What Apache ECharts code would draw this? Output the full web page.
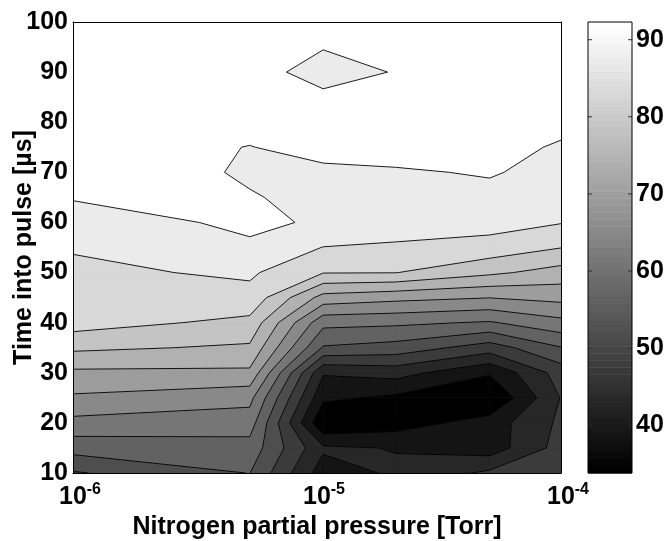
<!DOCTYPE html>
<html>
<head>
<meta charset="utf-8">
<script src="https://cdn.jsdelivr.net/npm/echarts@6/dist/echarts.min.js"></script>
<style>
html, body { margin: 0; padding: 0; background: #fff; }
#chart { width: 666px; height: 541px; }
</style>
</head>
<body>
<div id="chart"></div>
<script>
// measured grid: pressure columns [Torr], time rows [us]
var pressure = [1e-6, 5.3e-6, 1.06e-5, 2.1e-5, 5.1e-5, 1e-4];
var time = [10, 15, 20, 25, 30, 35, 40, 45, 50, 55, 60, 65, 70, 75, 80, 85, 90, 95, 100];
// one row per time value, one entry per pressure column
var intensity = [
    [49.6, 54.1, 39.9, 42.7, 46.8, 48.4],
    [55.6, 56.4, 42.7, 41.8, 39.8, 47.6],
    [60.8, 60.0, 34.3, 36.0, 39.9, 46.8],
    [65.4, 63.2, 38.8, 37.2, 33.8, 46.2],
    [69.2, 69.2, 42.4, 43.6, 38.5, 47.8],
    [74.8, 73.4, 53.6, 52.4, 48.0, 53.8],
    [79.8, 76.9, 59.2, 58.8, 57.6, 60.8],
    [80.4, 80.8, 68.5, 67.2, 66.1, 67.2],
    [81.2, 82.6, 78.2, 78.1, 74.8, 72.4],
    [82.3, 85.4, 81.9, 81.6, 80.4, 78.1],
    [84.0, 86.8, 85.5, 83.4, 83.6, 82.2],
    [86.3, 86.1, 85.6, 84.8, 85.0, 83.6],
    [87.2, 85.8, 85.3, 85.6, 86.3, 84.8],
    [88.0, 85.9, 87.2, 87.6, 87.2, 85.6],
    [88.4, 87.2, 87.2, 88.4, 88.0, 87.0],
    [88.6, 88.0, 86.4, 88.4, 88.4, 87.6],
    [88.8, 86.8, 85.2, 86.1, 88.4, 88.0],
    [89.0, 88.8, 86.1, 88.0, 88.8, 88.4],
    [92.3, 89.2, 87.2, 88.8, 89.2, 88.8]
];
var levels = [38, 42, 46, 50, 54, 58, 62, 66, 70, 74, 78, 82, 86];
var xTicks = [1e-6, 1e-5, 1e-4];
var yTicks = [10, 20, 30, 40, 50, 60, 70, 80, 90, 100];
var barTicks = [40, 50, 60, 70, 80, 90];
var barRange = [33.8, 92.3];

var FONT = '"Liberation Sans", Arial, Helvetica, sans-serif';

// grey for each filled band: black below the first level, white above the last
function bandColor(b) {
    var g = Math.round(b * 255 / levels.length);
    return 'rgb(' + g + ',' + g + ',' + g + ')';
}

function lerp(a, b, lv) {
    var t = (lv - a[2]) / (b[2] - a[2]);
    return [a[0] + (b[0] - a[0]) * t, a[1] + (b[1] - a[1]) * t, lv];
}

// part of a cell at or above a level, walking round its edges (marching squares)
function abovePoly(quad, lv) {
    var out = [];
    for (var k = 0; k < 4; k++) {
        var a = quad[k], b = quad[(k + 1) % 4];
        var ina = a[2] >= lv, inb = b[2] >= lv;
        if (ina) out.push(a);
        if (ina !== inb) out.push(lerp(a, b, lv));
    }
    return out;
}

// contour segments of one level inside one cell
function cellSegments(quad, lv) {
    var cross = [];
    for (var k = 0; k < 4; k++) {
        var a = quad[k], b = quad[(k + 1) % 4];
        var ina = a[2] >= lv, inb = b[2] >= lv;
        if (ina !== inb) cross.push({ p: lerp(a, b, lv), exit: ina });
    }
    var segs = [];
    for (var n = 0; n < cross.length; n++) {
        if (cross[n].exit) {
            var nx = cross[(n + 1) % cross.length];
            segs.push([cross[n].p, nx.p]);
        }
    }
    return segs;
}

function renderContour(params, api) {
    var quads = [];
    for (var j = 0; j < time.length - 1; j++) {
        for (var i = 0; i < pressure.length - 1; i++) {
            var q = [[i, j], [i + 1, j], [i + 1, j + 1], [i, j + 1]].map(function (c) {
                var p = api.coord([pressure[c[0]], time[c[1]]]);
                return [p[0], p[1], intensity[c[1]][c[0]]];
            });
            quads.push(q);
        }
    }
    var children = [];
    // fill level by level so every band paints over the one below it
    for (var b = 0; b <= levels.length; b++) {
        var col = bandColor(b);
        quads.forEach(function (q) {
            var poly = b === 0 ? q : abovePoly(q, levels[b - 1]);
            if (poly.length < 3) return;
            children.push({
                type: 'polygon',
                shape: { points: poly.map(function (p) { return [p[0], p[1]]; }) },
                style: { fill: col, stroke: col, lineWidth: 0.8 }
            });
        });
    }
    levels.forEach(function (lv) {
        quads.forEach(function (q) {
            cellSegments(q, lv).forEach(function (s) {
                children.push({
                    type: 'line',
                    shape: { x1: s[0][0], y1: s[0][1], x2: s[1][0], y2: s[1][1] },
                    style: { stroke: '#000', lineWidth: 0.9 }
                });
            });
        });
    });
    return { type: 'group', children: children };
}

// colour bar: 64 grey steps like the gray(64) colormap, with inside ticks
function renderBar(params, api) {
    var steps = 64, children = [];
    var lo = barRange[0], hi = barRange[1];
    for (var k = 0; k < steps; k++) {
        var v0 = lo + (hi - lo) * k / steps, v1 = lo + (hi - lo) * (k + 1) / steps;
        var p0 = api.coord([0, v0]), p1 = api.coord([1, v1]);
        var g = Math.round(255 * k / (steps - 1));
        var col = 'rgb(' + g + ',' + g + ',' + g + ')';
        children.push({
            type: 'rect',
            shape: { x: p0[0], y: p1[1], width: p1[0] - p0[0], height: p0[1] - p1[1] + 0.5 },
            style: { fill: col }
        });
    }
    barTicks.forEach(function (v) {
        var l = api.coord([0, v]), r = api.coord([1, v]);
        children.push({ type: 'line', shape: { x1: l[0], y1: l[1], x2: l[0] + 4, y2: l[1] },
            style: { stroke: '#333', lineWidth: 1 } });
        children.push({ type: 'line', shape: { x1: r[0] - 4, y1: r[1], x2: r[0], y2: r[1] },
            style: { stroke: '#333', lineWidth: 1 } });
    });
    var a = api.coord([0, hi]), z = api.coord([1, lo]);
    children.push({
        type: 'rect',
        shape: { x: a[0], y: a[1], width: z[0] - a[0], height: z[1] - a[1] },
        style: { fill: null, stroke: '#000', lineWidth: 1 }
    });
    return { type: 'group', children: children };
}

var chart = echarts.init(document.getElementById('chart'), null, { renderer: 'canvas' });
var option = {
    animation: false,
    backgroundColor: '#fff',
    grid: [
        { left: 73, top: 22, width: 488, height: 451, outerBoundsMode: 'none', containLabel: false },
        { left: 588, top: 22, width: 44, height: 451, outerBoundsMode: 'none', containLabel: false }
    ],
    xAxis: [{
        type: 'log', logBase: 10, gridIndex: 0, min: 1e-6, max: 1e-4, z: 10,
        name: 'Nitrogen partial pressure [Torr]', nameLocation: 'middle', nameGap: 38,
        nameTextStyle: { fontFamily: FONT, fontWeight: 'bold', fontSize: 25, color: '#000' },
        axisLine: { show: true, lineStyle: { color: '#000', width: 1 } },
        axisTick: { show: false }, splitLine: { show: false }, minorTick: { show: false },
        axisLabel: {
            margin: 9,
            customValues: xTicks,
            formatter: function (v) {
                var e = Math.round(Math.log(v) / Math.LN10);
                return '{b|10}{s|' + e + '}';
            },
            rich: {
                b: { fontFamily: FONT, fontWeight: 'bold', fontSize: 25, color: '#000', padding: [0, 0, 0, 14] },
                s: { fontFamily: FONT, fontWeight: 'bold', fontSize: 16, color: '#000', padding: [0, 0, 15, 0] }
            }
        }
    }, {
        type: 'log', logBase: 10, gridIndex: 0, min: 1e-6, max: 1e-4, position: 'top', z: 10,
        axisLine: { show: true, lineStyle: { color: '#000', width: 1 } },
        axisTick: { show: false }, axisLabel: { show: false }, splitLine: { show: false }
    }, {
        type: 'value', gridIndex: 1, min: 0, max: 1, show: false
    }],
    yAxis: [{
        type: 'value', gridIndex: 0, min: 10, max: 100, interval: 10, z: 10,
        name: 'Time into pulse [µs]', nameLocation: 'middle', nameGap: 36, nameRotate: 90,
        nameMoveOverlap: false,
        nameTextStyle: { fontFamily: FONT, fontWeight: 'bold', fontSize: 25, color: '#000' },
        axisLine: { show: true, lineStyle: { color: '#000', width: 1 } },
        axisTick: { show: false }, splitLine: { show: false },
        axisLabel: { margin: 5, fontFamily: FONT, fontWeight: 'bold', fontSize: 25, color: '#000',
            customValues: yTicks }
    }, {
        type: 'value', gridIndex: 0, min: 10, max: 100, interval: 10, position: 'right', z: 10,
        axisLine: { show: true, lineStyle: { color: '#000', width: 1 } },
        axisTick: { show: false }, axisLabel: { show: false }, splitLine: { show: false }
    }, {
        type: 'value', gridIndex: 1, min: barRange[0], max: barRange[1], position: 'right', z: 10,
        axisLine: { show: false },
        axisTick: { show: false },
        axisLabel: { margin: 4, fontFamily: FONT, fontWeight: 'bold', fontSize: 25, color: '#000',
            customValues: barTicks },
        splitLine: { show: false }
    }],
    series: [{
        type: 'custom', xAxisIndex: 0, yAxisIndex: 0, clip: true, silent: true,
        renderItem: renderContour, data: [[0]], z: 1
    }, {
        type: 'custom', xAxisIndex: 2, yAxisIndex: 2, silent: true,
        renderItem: renderBar, data: [[0]], z: 1
    }]
};
chart.setOption(option);
</script>
</body>
</html>
